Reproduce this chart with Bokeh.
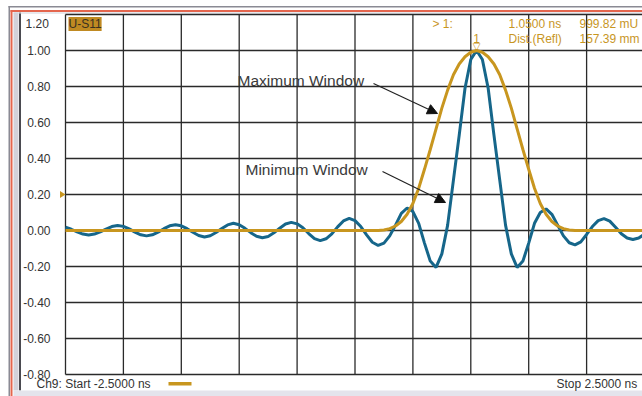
from bokeh.plotting import figure
from bokeh.models import (Range1d, FixedTicker, PrintfTickFormatter, Label, Arrow,
                          NormalHead, BoxAnnotation, PolyAnnotation, ColumnDataSource)
from bokeh.embed import file_html
from bokeh.resources import INLINE
from bokeh.core.properties import value

# ---------------- data ----------------
start_ns = -2.5
stop_ns = 2.5
channel = "Ch9"
trace_name = "U-S11"
marker_id = "1"
marker_time_ns = 1.05
marker_value_mU = 999.82
marker_dist_mm = 157.39
ref_level = 0.20

time_ns = [
    -2.50, -2.45, -2.40, -2.35, -2.30, -2.25, -2.20, -2.15, -2.10, -2.05,
    -2.00, -1.95, -1.90, -1.85, -1.80, -1.75, -1.70, -1.65, -1.60, -1.55,
    -1.50, -1.45, -1.40, -1.35, -1.30, -1.25, -1.20, -1.15, -1.10, -1.05,
    -1.00, -0.95, -0.90, -0.85, -0.80, -0.75, -0.70, -0.65, -0.60, -0.55,
    -0.50, -0.45, -0.40, -0.35, -0.30, -0.25, -0.20, -0.15, -0.10, -0.05,
    0.00, 0.05, 0.10, 0.15, 0.20, 0.25, 0.30, 0.35, 0.40, 0.45,
    0.50, 0.55, 0.60, 0.65, 0.70, 0.75, 0.80, 0.85, 0.90, 0.95,
    1.00, 1.05, 1.10, 1.15, 1.20, 1.25, 1.30, 1.35, 1.40, 1.45,
    1.50, 1.55, 1.60, 1.65, 1.70, 1.75, 1.80, 1.85, 1.90, 1.95,
    2.00, 2.05, 2.10, 2.15, 2.20, 2.25, 2.30, 2.35, 2.40, 2.45,
    2.50,
]

minimum_window = [
    0.018, 0.007, -0.008, -0.020, -0.025, -0.020, -0.008, 0.008, 0.022, 0.028,
    0.023, 0.009, -0.009, -0.024, -0.030, -0.024, -0.009, 0.010, 0.026, 0.032,
    0.026, 0.010, -0.010, -0.028, -0.036, -0.029, -0.011, 0.011, 0.031, 0.040,
    0.032, 0.012, -0.012, -0.032, -0.040, -0.033, -0.013, 0.013, 0.036, 0.045,
    0.037, 0.015, -0.017, -0.045, -0.056, -0.046, -0.019, 0.020, 0.053, 0.067,
    0.055, 0.022, -0.024, -0.065, -0.083, -0.070, -0.030, 0.030, 0.095, 0.125,
    0.105, 0.040, -0.070, -0.170, -0.205, -0.130, 0.030, 0.280, 0.530, 0.790,
    0.950, 1.000, 0.950, 0.790, 0.530, 0.280, 0.030, -0.130, -0.205, -0.170,
    -0.070, 0.040, 0.100, 0.120, 0.090, 0.030, -0.030, -0.068, -0.080, -0.063,
    -0.022, 0.022, 0.055, 0.066, 0.052, 0.018, -0.018, -0.042, -0.050, -0.042,
    -0.020,
]

maximum_window = [
    0.0, 0.0, 0.0, 0.0, 0.0, 0.0, 0.0, 0.0, 0.0, 0.0,
    0.0, 0.0, 0.0, 0.0, 0.0, 0.0, 0.0, 0.0, 0.0, 0.0,
    0.0, 0.0, 0.0, 0.0, 0.0, 0.0, 0.0, 0.0, 0.0, 0.0,
    0.0, 0.0, 0.0, 0.0, 0.0, 0.0, 0.0, 0.0, 0.0, 0.0,
    0.0, 0.0, 0.0, 0.0, 0.0, 0.0, 0.0, 0.0, 0.0, 0.0,
    0.0, 0.0, 0.0, 0.0, 0.0, 0.003, 0.010, 0.025, 0.050, 0.090,
    0.150, 0.235, 0.340, 0.450, 0.565, 0.680, 0.780, 0.865, 0.925, 0.965,
    0.990, 1.000, 0.990, 0.965, 0.925, 0.865, 0.780, 0.680, 0.565, 0.450,
    0.340, 0.235, 0.150, 0.090, 0.050, 0.025, 0.010, 0.003, 0.0, 0.0,
    0.0, 0.0, 0.0, 0.0, 0.0, 0.0, 0.0, 0.0, 0.0, 0.0,
    0.0,
]

x_grid_ticks = [-2.5, -2.0, -1.5, -1.0, -0.5, 0.0, 0.5, 1.0, 1.5, 2.0, 2.5]
y_ticks = [-0.8, -0.6, -0.4, -0.2, 0.0, 0.2, 0.4, 0.6, 0.8, 1.0]
y_top = 1.2
y_bottom = -0.8

# ---------------- layout / styles ----------------
W, H = 642, 396
LEFT_PX, TOP_PX = 65, 14            # plot-area corner in the canvas
PX_PER_NS = 115.8
PX_PER_UNIT = 180.0
X0 = start_ns - LEFT_PX / PX_PER_NS
X1 = X0 + W / PX_PER_NS
Y1 = y_top + TOP_PX / PX_PER_UNIT
Y0 = Y1 - H / PX_PER_UNIT

def cx(px):  # canvas px -> data x
    return X0 + px / PX_PER_NS

def cy(py):  # canvas px (from top) -> data y
    return Y1 - py / PX_PER_UNIT

BLUE = "#16668A"
GOLD = "#C8961F"
GRID = "#2a2a2a"
TXT = "#333333"
FONT = "Liberation Sans"

p = figure(width=W, height=H, output_backend="svg", toolbar_location=None,
           x_range=Range1d(X0, X1), y_range=Range1d(Y0, Y1),
           min_border_left=0, min_border_right=0, min_border_top=0, min_border_bottom=0)
p.background_fill_color = "white"
p.border_fill_color = "white"
p.outline_line_color = None
p.grid.visible = False

p.xaxis.visible = False
p.yaxis.fixed_location = start_ns
p.yaxis.ticker = FixedTicker(ticks=y_ticks)
p.yaxis.formatter = PrintfTickFormatter(format="%.2f")
p.yaxis.axis_line_color = None
p.yaxis.major_tick_line_color = None
p.yaxis.minor_tick_line_color = None
p.yaxis.major_tick_out = 0
p.yaxis.major_tick_in = 0
p.yaxis.major_label_standoff = 15
p.yaxis.major_label_text_font = FONT
p.yaxis.major_label_text_font_size = "12px"
p.yaxis.major_label_text_color = TXT

# graticule (grid lines limited to the measurement area)
all_y = y_ticks + [y_top]
p.segment(x0=x_grid_ticks, y0=[y_bottom] * len(x_grid_ticks),
          x1=x_grid_ticks, y1=[y_top] * len(x_grid_ticks),
          line_color=GRID, line_width=1.3)
p.segment(x0=[start_ns] * len(all_y), y0=all_y,
          x1=[X1 + 1] * len(all_y), y1=all_y,
          line_color=GRID, line_width=1.3)

# instrument frame decorations
def pbox(l, r, t, b, color):
    p.add_layout(BoxAnnotation(left=cx(l), right=cx(r), top=cy(t), bottom=cy(b),
                               fill_color=color, fill_alpha=1, line_color=None,
                               level="underlay"))

pbox(8, 9.5, 5.5, H, "#8a8a94")
pbox(8, W, 5.5, 7, "#8a8a94")
pbox(10, 12, 9.5, H, "#E4664E")
pbox(10, W, 9.5, 11.5, "#E4664E")
pbox(13, 18, 12, 390, "#D2D2DA")
pbox(18.5, 20.5, 12, 390, "#4a4a50")
pbox(13, W, 12, 13, "#D2D2DA")
pbox(13, W, 390, H, "#E4E4EC")

# traces
src = ColumnDataSource(dict(t=time_ns, vmin=minimum_window, vmax=maximum_window))
p.line("t", "vmin", source=src, line_color=BLUE, line_width=3)
p.line("t", "vmax", source=src, line_color=GOLD, line_width=3)

# marker
mv = marker_value_mU / 1000.0
p.text(x=[marker_time_ns], y=[mv], text=["\u25BD"], text_align="center", text_baseline="bottom",
       text_color=GOLD, text_font=value("DejaVu Sans"), text_font_size="10px", y_offset=1)
p.text(x=[marker_time_ns], y=[mv], text=[marker_id], text_align="center", text_baseline="bottom",
       text_color=GOLD, text_font=value(FONT), text_font_size="12px", y_offset=-8)

# reference level triangle at left edge
p.add_layout(PolyAnnotation(xs=[cx(59.5), cx(65), cx(59.5)], ys=[cy(190.5), cy(194), cy(197.5)],
                            fill_color=GOLD, fill_alpha=1, line_color=None))

def lab(px, py, text, color=TXT, size="12px", align="left", baseline="middle", **kw):
    p.add_layout(Label(x=cx(px), y=cy(py), text=text, text_color=color, text_font=FONT,
                       text_font_size=size, text_align=align, text_baseline=baseline, **kw))

lab(25, 23, f"{y_top:.2f}")

# trace name box
lab(68, 16.5, trace_name, color="#3a3020", baseline="top",
    background_fill_color="#C08A22", background_fill_alpha=1)

# marker readout
lab(432, 23, f"> {marker_id}:", color=GOLD)
lab(508, 23, f"{marker_time_ns:.4f} ns", color=GOLD)
lab(579, 23, f"{marker_value_mU:.2f} mU", color=GOLD)
lab(508, 38, "Dist.(Refl)", color=GOLD)
lab(579, 38, f"{marker_dist_mm:.2f} mm", color=GOLD)

# annotations
lab(237, 80, "Maximum Window", size="15.5px", color="#3a3a3a")
lab(245, 169, "Minimum Window", size="15.5px", color="#3a3a3a")
p.add_layout(Arrow(end=NormalHead(size=10, fill_color="#111111", line_color="#111111"),
                   x_start=cx(373), y_start=cy(83), x_end=cx(437), y_end=cy(113),
                   line_color="#222222", line_width=1.2))
p.add_layout(Arrow(end=NormalHead(size=10, fill_color="#111111", line_color="#111111"),
                   x_start=cx(382), y_start=cy(171), x_end=cx(445), y_end=cy(202),
                   line_color="#222222", line_width=1.2))

# status line
lab(36, 383, f"{channel}: Start {start_ns:.4f} ns")
pbox(168, 191, 381.5, 385, GOLD)
lab(640, 383, f"Stop  {stop_ns:.4f} ns", align="right")

open("out.html", "w").write(file_html(p, INLINE))
